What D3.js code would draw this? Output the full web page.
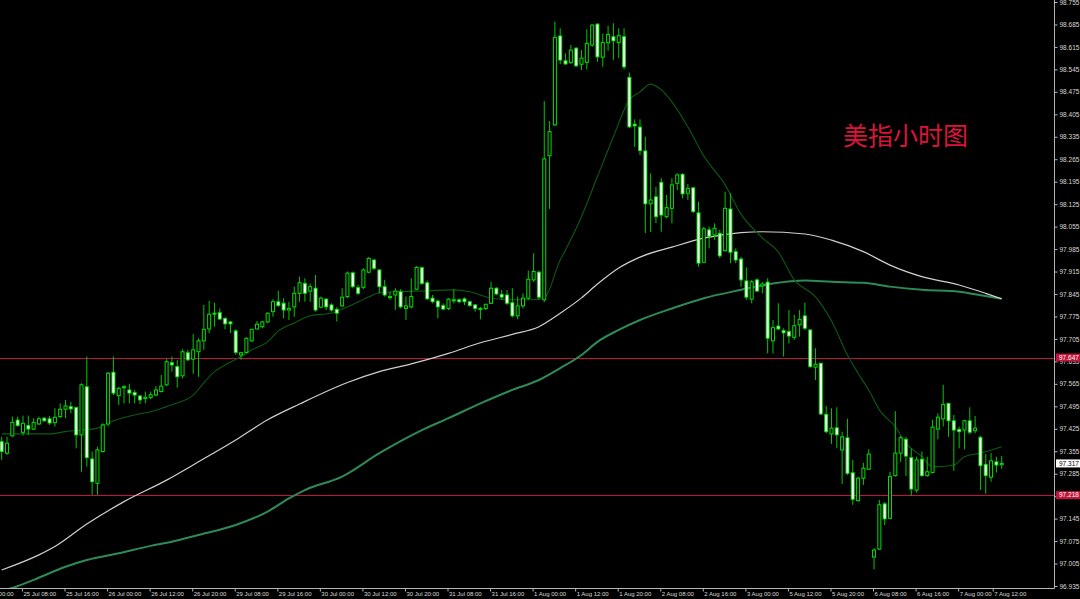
<!DOCTYPE html>
<html>
<head>
<meta charset="utf-8">
<script src="https://cdn.jsdelivr.net/npm/d3@7/dist/d3.min.js"></script>
<style>
html,body{margin:0;padding:0;background:#000;}
svg{display:block;}
</style>
</head>
<body>
<svg id="chart" width="1080" height="599"></svg>
<script>
// ---------------- DATA ----------------
const opens = [
97.385,97.349,97.403,97.452,97.414,97.435,97.424,97.440,97.458,97.456,
97.444,97.463,97.486,97.494,97.491,97.406,97.556,97.331,97.255,97.354,
97.440,97.601,97.528,97.553,97.546,97.538,97.527,97.519,97.522,97.530,
97.541,97.562,97.631,97.619,97.590,97.662,97.642,97.665,97.699,97.736,
97.782,97.787,97.769,97.758,97.730,97.655,97.663,97.699,97.736,97.743,
97.758,97.790,97.821,97.816,97.795,97.805,97.847,97.878,97.854,97.863,
97.804,97.829,97.811,97.797,97.808,97.837,97.911,97.865,97.866,97.913,
97.951,97.920,97.868,97.837,97.842,97.852,97.800,97.805,97.860,97.927,
97.880,97.832,97.823,97.809,97.800,97.824,97.827,97.830,97.821,97.811,
97.798,97.800,97.816,97.863,97.844,97.842,97.818,97.777,97.808,97.832,
97.889,97.913,97.827,98.276,98.372,98.649,98.572,98.566,98.611,98.561,
98.567,98.621,98.686,98.583,98.628,98.647,98.629,98.647,98.520,98.374,
98.365,98.291,98.126,98.148,98.193,98.086,98.112,98.190,98.218,98.159,
98.176,98.098,97.944,98.045,98.029,98.034,97.980,98.110,97.977,97.954,
97.886,97.829,97.889,97.870,97.882,97.699,97.745,97.731,97.728,97.710,
97.749,97.777,97.733,97.617,97.629,97.470,97.409,97.428,97.359,97.397,
97.288,97.201,97.271,97.299,97.025,97.050,97.191,97.146,97.279,97.349,
97.392,97.335,97.234,97.330,97.279,97.289,97.424,97.456,97.504,97.450,
97.423,97.421,97.450,97.419,97.398,97.314,97.274,97.322,97.313];
const highs = [
97.400,97.400,97.463,97.463,97.466,97.466,97.458,97.463,97.461,97.465,
97.489,97.504,97.515,97.509,97.494,97.567,97.650,97.354,97.369,97.442,
97.602,97.650,97.556,97.562,97.565,97.546,97.530,97.541,97.541,97.558,
97.593,97.642,97.650,97.639,97.673,97.671,97.720,97.707,97.811,97.824,
97.818,97.800,97.772,97.761,97.735,97.665,97.710,97.736,97.761,97.761,
97.788,97.829,97.855,97.832,97.821,97.868,97.899,97.894,97.878,97.904,
97.837,97.832,97.816,97.804,97.863,97.915,97.915,97.873,97.925,97.960,
97.953,97.922,97.889,97.852,97.863,97.860,97.837,97.894,97.932,97.930,
97.887,97.842,97.827,97.816,97.832,97.860,97.832,97.834,97.824,97.814,
97.805,97.814,97.883,97.866,97.858,97.858,97.863,97.837,97.847,97.918,
97.972,97.918,98.446,98.384,98.694,98.673,98.595,98.621,98.614,98.605,
98.670,98.686,98.689,98.657,98.681,98.689,98.673,98.673,98.535,98.389,
98.389,98.335,98.221,98.179,98.206,98.154,98.206,98.221,98.221,98.188,
98.179,98.133,98.055,98.055,98.065,98.045,98.164,98.159,97.987,97.961,
97.928,97.889,97.894,97.883,97.894,97.764,97.816,97.738,97.795,97.780,
97.795,97.818,97.735,97.676,97.631,97.496,97.489,97.492,97.416,97.456,
97.328,97.276,97.319,97.361,97.053,97.203,97.197,97.291,97.480,97.403,
97.400,97.364,97.338,97.354,97.338,97.453,97.473,97.562,97.506,97.468,
97.432,97.453,97.492,97.465,97.403,97.346,97.349,97.338,97.340];
const lows = [
97.328,97.343,97.400,97.432,97.404,97.406,97.421,97.437,97.447,97.437,
97.432,97.458,97.458,97.473,97.364,97.291,97.307,97.219,97.219,97.351,
97.432,97.530,97.499,97.504,97.504,97.504,97.502,97.504,97.517,97.527,
97.538,97.558,97.603,97.553,97.582,97.636,97.596,97.587,97.671,97.723,
97.743,97.764,97.735,97.723,97.655,97.640,97.660,97.696,97.735,97.738,
97.754,97.774,97.805,97.769,97.764,97.774,97.821,97.821,97.821,97.790,
97.800,97.795,97.790,97.759,97.804,97.832,97.863,97.842,97.860,97.910,
97.920,97.847,97.837,97.827,97.795,97.800,97.764,97.800,97.858,97.873,
97.827,97.816,97.769,97.795,97.795,97.816,97.816,97.811,97.805,97.790,
97.766,97.795,97.814,97.842,97.827,97.811,97.772,97.766,97.800,97.827,
97.883,97.827,97.820,98.110,98.369,98.561,98.559,98.562,98.553,98.543,
98.545,98.615,98.569,98.553,98.603,98.574,98.580,98.545,98.362,98.304,
98.278,98.035,98.038,98.066,98.039,98.081,98.065,98.169,98.143,98.138,
98.097,97.930,97.941,97.987,98.014,97.957,97.977,97.941,97.941,97.868,
97.827,97.816,97.852,97.847,97.660,97.660,97.733,97.650,97.691,97.702,
97.712,97.733,97.614,97.577,97.468,97.411,97.378,97.364,97.253,97.281,
97.188,97.198,97.250,97.297,96.987,97.047,97.125,97.144,97.276,97.322,
97.278,97.216,97.226,97.276,97.276,97.286,97.392,97.432,97.400,97.294,
97.364,97.361,97.408,97.411,97.234,97.222,97.260,97.289,97.300];
const closes = [
97.354,97.380,97.445,97.435,97.442,97.424,97.445,97.456,97.450,97.443,
97.461,97.486,97.496,97.487,97.406,97.562,97.335,97.260,97.359,97.437,
97.598,97.536,97.551,97.556,97.536,97.530,97.515,97.523,97.531,97.546,
97.558,97.634,97.624,97.587,97.665,97.640,97.671,97.699,97.735,97.782,
97.785,97.767,97.752,97.752,97.663,97.662,97.707,97.735,97.751,97.758,
97.785,97.821,97.809,97.795,97.800,97.847,97.880,97.847,97.868,97.795,
97.832,97.805,97.795,97.785,97.835,97.910,97.868,97.847,97.920,97.956,
97.925,97.868,97.842,97.835,97.854,97.805,97.808,97.837,97.928,97.878,
97.830,97.821,97.805,97.798,97.829,97.827,97.821,97.821,97.809,97.800,
97.800,97.813,97.863,97.845,97.835,97.816,97.777,97.808,97.832,97.891,
97.915,97.835,98.266,98.351,98.645,98.574,98.562,98.605,98.556,98.580,
98.626,98.683,98.584,98.629,98.654,98.634,98.650,98.553,98.366,98.369,
98.292,98.126,98.138,98.086,98.091,98.114,98.185,98.216,98.157,98.174,
98.102,97.941,98.048,98.024,98.050,97.964,98.112,97.975,97.951,97.889,
97.835,97.883,97.854,97.876,97.707,97.740,97.736,97.724,97.714,97.746,
97.766,97.738,97.619,97.626,97.471,97.416,97.427,97.406,97.400,97.286,
97.205,97.271,97.302,97.346,97.047,97.188,97.144,97.276,97.349,97.397,
97.340,97.237,97.328,97.279,97.291,97.430,97.461,97.501,97.450,97.421,
97.416,97.450,97.414,97.427,97.310,97.279,97.325,97.312,97.317];

// moving averages: [bar index, price]
const maFast = [
[0,97.409],[9,97.409],[12,97.416],[18,97.427],[20,97.443],[25,97.468],[28,97.478],[31,97.494],
[33,97.505],[36,97.530],[38,97.568],[40,97.603],[42,97.624],[45,97.650],[47,97.671],[50,97.696],
[52,97.730],[55,97.755],[58,97.777],[62,97.786],[65,97.805],[69,97.836],[71,97.849],[74,97.852],
[80,97.855],[85,97.858],[88,97.852],[90,97.842],[92,97.832],[96,97.827],[100,97.827],[102,97.833],
[105,97.951],[106,97.982],[109,98.086],[112,98.211],[115,98.335],[118,98.450],[120,98.475],[122,98.499],
[124,98.481],[126,98.444],[129,98.366],[132,98.275],[136,98.185],[139,98.094],[143,98.020],[146,97.976],
[149,97.889],[153,97.836],[156,97.761],[159,97.655],[161,97.598],[163,97.546],[165,97.484],[168,97.431],
[170,97.380],[173,97.338],[175,97.307],[176,97.307],[179,97.312],[181,97.338],[184,97.349],[188,97.369]];
const maMid = [
[0,96.985],[7,97.032],[10,97.058],[16,97.128],[23,97.198],[31,97.265],[37,97.322],[44,97.390],
[50,97.453],[56,97.502],[65,97.569],[71,97.603],[77,97.627],[84,97.660],[90,97.693],[96,97.719],
[101,97.743],[105,97.785],[109,97.833],[112,97.876],[116,97.926],[120,97.960],[126,97.991],[132,98.019],
[139,98.036],[143,98.039],[151,98.032],[156,98.013],[162,97.977],[167,97.935],[173,97.899],[180,97.873],
[185,97.847],[188,97.830]];
const maSlow = [
[-2,96.915],[2,96.929],[6,96.954],[12,96.995],[16,97.016],[22,97.037],[28,97.060],[32,97.073],
[37,97.094],[44,97.125],[50,97.167],[54,97.208],[57,97.234],[64,97.276],[71,97.349],[79,97.421],
[84,97.458],[90,97.504],[96,97.546],[101,97.577],[105,97.614],[109,97.655],[112,97.696],[116,97.733],
[120,97.764],[126,97.800],[132,97.832],[139,97.858],[145,97.878],[151,97.887],[156,97.883],[162,97.880],
[167,97.868],[173,97.858],[180,97.852],[183,97.844],[188,97.830]];

const priceTicks = ["96.935","97.005","97.075","97.145","97.215","97.285","97.355","97.425","97.495",
"97.565","97.635","97.705","97.775","97.845","97.915","97.985","98.055","98.125","98.195","98.265",
"98.335","98.405","98.475","98.545","98.615","98.685","98.755"];
const timeLabels = [
[-4,"25 Jul 00:00"],[4,"25 Jul 08:00"],[12,"25 Jul 16:00"],[20,"26 Jul 00:00"],[28,"26 Jul 12:00"],
[36,"26 Jul 20:00"],[44,"29 Jul 08:00"],[52,"29 Jul 16:00"],[60,"30 Jul 00:00"],[68,"30 Jul 12:00"],
[76,"30 Jul 20:00"],[84,"31 Jul 08:00"],[92,"31 Jul 16:00"],[100,"1 Aug 00:00"],[108,"1 Aug 12:00"],
[116,"1 Aug 20:00"],[124,"2 Aug 08:00"],[132,"2 Aug 16:00"],[140,"3 Aug 00:00"],[148,"5 Aug 12:00"],
[156,"5 Aug 20:00"],[164,"6 Aug 08:00"],[172,"6 Aug 16:00"],[180,"7 Aug 00:00"],[186.5,"7 Aug 12:00"]];
const levelLines = [97.647, 97.218];
const lastPrice = 97.317;
const title = "美指小时图";

// ---------------- DRAW ----------------
const W = 1080, H = 599;
const plotRight = 1054, plotBottom = 588;
const svg = d3.select("#chart");
svg.append("rect").attr("width", W).attr("height", H).attr("fill", "#000");

const x = d3.scaleLinear().domain([0, opens.length - 1]).range([1.7, 1001.7]);
const y = d3.scaleLinear().domain([96.935, 98.755]).range([586, 2]);

svg.append("clipPath").attr("id", "plot")
  .append("rect").attr("x", 0).attr("y", 0).attr("width", plotRight).attr("height", plotBottom);
const g = svg.append("g").attr("clip-path", "url(#plot)");

// level lines
g.selectAll("line.level").data(levelLines).join("line")
  .attr("class", "level")
  .attr("x1", 0).attr("x2", plotRight)
  .attr("y1", d => Math.round(y(d)) + 0.5).attr("y2", d => Math.round(y(d)) + 0.5)
  .attr("stroke", "#c0143a").attr("stroke-width", 1);

// moving averages
const line = d3.line().x(d => x(d[0])).y(d => y(d[1])).curve(d3.curveMonotoneX);
g.append("path").datum(maSlow).attr("d", line).attr("fill", "none")
  .attr("stroke", "#2e8b57").attr("stroke-width", 2);
g.append("path").datum(maMid).attr("d", line).attr("fill", "none")
  .attr("stroke", "#cfcfcf").attr("stroke-width", 1.2);
g.append("path").datum(maFast).attr("d", line).attr("fill", "none")
  .attr("stroke", "#0d5a12").attr("stroke-width", 1.1);

// candles
const bars = opens.map((o, i) => ({ i, o, h: highs[i], l: lows[i], c: closes[i] }));
const cg = g.append("g");
const wickColor = "#00c800", edgeColor = "#00e000";
cg.selectAll("rect.wick").data(bars).join("rect")
  .attr("class", "wick")
  .attr("x", d => x(d.i) - 0.5).attr("width", 1)
  .attr("y", d => y(d.h)).attr("height", d => Math.max(1, y(d.l) - y(d.h)))
  .attr("fill", wickColor);
cg.selectAll("rect.body").data(bars).join("rect")
  .attr("class", "body")
  .attr("x", d => x(d.i) - 2).attr("width", 4)
  .attr("y", d => y(Math.max(d.o, d.c)) - 0.5)
  .attr("height", d => Math.max(2, Math.abs(y(d.o) - y(d.c)) + 1))
  .attr("fill", edgeColor);
cg.selectAll("rect.inner").data(bars).join("rect")
  .attr("class", "inner")
  .attr("x", d => x(d.i) - 1).attr("width", 2)
  .attr("y", d => y(Math.max(d.o, d.c)) + 0.5)
  .attr("height", d => Math.max(0, Math.abs(y(d.o) - y(d.c)) - 1))
  .attr("fill", d => d.c >= d.o ? "#000" : "#ffffff");

// title
svg.append("text").attr("x", 843).attr("y", 145)
  .attr("font-family", "'Noto Sans CJK SC', sans-serif").attr("font-size", 25)
  .attr("fill", "#dc143c").text(title);

// axes
const axisColor = "#b4b4b4", textColor = "#d8d8d8";
const yAxis = d3.axisRight(y).tickValues(priceTicks.map(Number)).tickSize(3)
  .tickFormat((d, i) => priceTicks[i]);
const ya = svg.append("g").attr("transform", `translate(${plotRight + 0.5},0)`).call(yAxis);
ya.select(".domain").attr("stroke", axisColor).attr("d", `M0,0V${plotBottom + 0.5}`);
ya.selectAll(".tick line").attr("stroke", axisColor);
ya.selectAll(".tick text").attr("x", 5).attr("fill", textColor)
  .attr("font-family", "'Liberation Sans', Arial, sans-serif").attr("font-size", 6.5);

const xAxis = d3.axisBottom(x).tickValues(timeLabels.map(d => d[0])).tickSize(3)
  .tickFormat((d, i) => timeLabels[i][1]);
const xa = svg.append("g").attr("transform", `translate(0,${plotBottom + 0.5})`).call(xAxis);
xa.select(".domain").attr("stroke", axisColor).attr("d", `M0,0H${plotRight + 0.5}`);
xa.selectAll(".tick line").attr("stroke", axisColor).attr("transform", "translate(-1,0)");
xa.selectAll(".tick text").attr("text-anchor", "start").attr("x", 0).attr("y", 3.5)
  .attr("dy", "0.71em").attr("fill", textColor)
  .attr("font-family", "'Liberation Sans', Arial, sans-serif").attr("font-size", 6);

// level labels on the price axis
const lbl = svg.append("g");
levelLines.forEach(v => {
  const yy = y(v);
  lbl.append("rect").attr("x", plotRight + 2).attr("y", yy - 4).attr("width", 26).attr("height", 8)
    .attr("fill", "#c0143a");
  lbl.append("text").attr("x", plotRight + 5).attr("y", yy).attr("dy", "0.35em")
    .attr("fill", "#fff").attr("font-family", "'Liberation Sans', Arial, sans-serif")
    .attr("font-size", 6.5).text(v.toFixed(3));
});
{
  const yy = y(lastPrice);
  lbl.append("rect").attr("x", plotRight + 2).attr("y", yy - 4).attr("width", 26).attr("height", 8)
    .attr("fill", "#fff");
  lbl.append("text").attr("x", plotRight + 5).attr("y", yy).attr("dy", "0.35em")
    .attr("fill", "#000").attr("font-family", "'Liberation Sans', Arial, sans-serif")
    .attr("font-size", 6.5).text(lastPrice.toFixed(3));
}
</script>
</body>
</html>
